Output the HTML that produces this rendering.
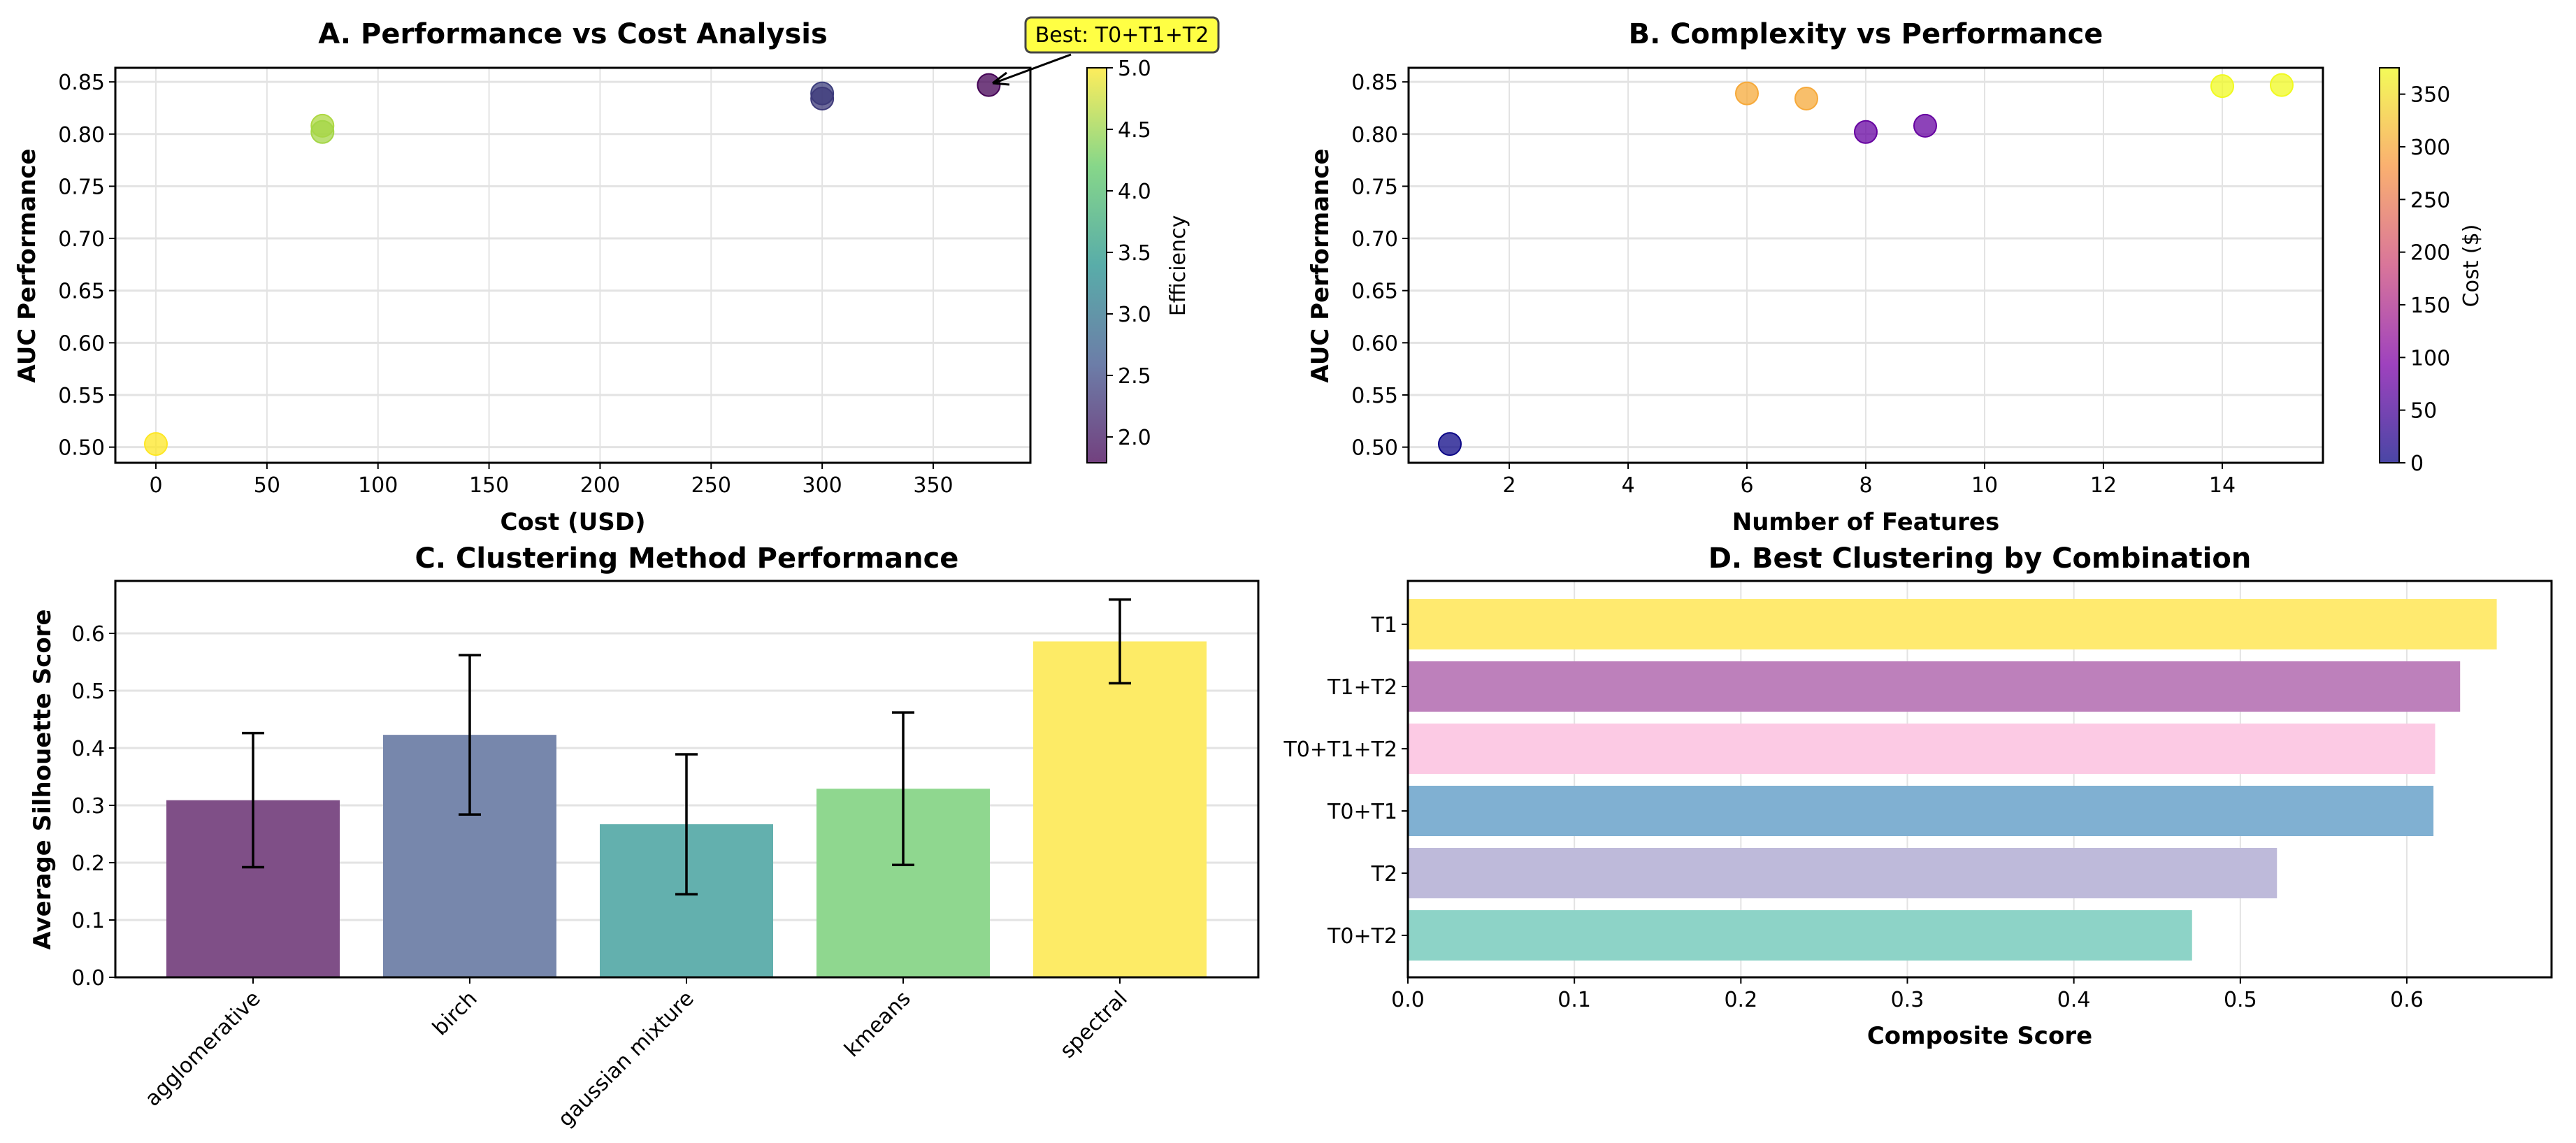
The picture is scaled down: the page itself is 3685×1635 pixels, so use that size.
<!DOCTYPE html>
<html><head><meta charset="utf-8"><style>
html,body{margin:0;padding:0;background:#fff}
svg{display:block;font-family:"DejaVu Sans","Liberation Sans",sans-serif}
</style></head><body>
<svg id="s" width="3685" height="1635" viewBox="0 0 3685 1635" xmlns="http://www.w3.org/2000/svg">
<defs>
<linearGradient id="viridis" x1="0" y1="1" x2="0" y2="0">
<stop offset="0" stop-color="#440154"/><stop offset="0.25" stop-color="#3b528b"/><stop offset="0.5" stop-color="#21918c"/><stop offset="0.75" stop-color="#5ec962"/><stop offset="1" stop-color="#fde725"/>
</linearGradient>
<linearGradient id="plasma" x1="0" y1="1" x2="0" y2="0">
<stop offset="0" stop-color="#0d0887"/><stop offset="0.25" stop-color="#7e03a8"/><stop offset="0.5" stop-color="#cc4778"/><stop offset="0.75" stop-color="#f89540"/><stop offset="1" stop-color="#f0f921"/>
</linearGradient>
</defs>
</svg>
<script>
// Panel A data
const aCost = [0, 75, 75, 300, 300, 375];
const aAuc = [0.503, 0.808, 0.802, 0.839, 0.834, 0.847];
const aEff = [5.0, 4.6, 4.55, 2.4, 2.35, 1.8];
const aXTicks = [0, 50, 100, 150, 200, 250, 300, 350];
const aucTicks = [0.50, 0.55, 0.60, 0.65, 0.70, 0.75, 0.80, 0.85];
const effTicks = [2.0, 2.5, 3.0, 3.5, 4.0, 4.5, 5.0];
// Panel B data
const bFeat = [1, 6, 7, 8, 9, 14, 15];
const bAuc = [0.503, 0.839, 0.834, 0.802, 0.808, 0.846, 0.847];
const bCost = [0, 300, 300, 75, 75, 375, 375];
const bXTicks = [2, 4, 6, 8, 10, 12, 14];
const costTicks = [0, 50, 100, 150, 200, 250, 300, 350];
// Panel C data
const cMethods = ["agglomerative", "birch", "gaussian mixture", "kmeans", "spectral"];
const cMeans = [0.309, 0.423, 0.267, 0.329, 0.586];
const cErr = [0.117, 0.139, 0.122, 0.133, 0.073];
const cColors = ["#7f4f87", "#7787ac", "#63b0ae", "#8fd78f", "#fdeb66"];
const cYTicks = [0.0, 0.1, 0.2, 0.3, 0.4, 0.5, 0.6];
// Panel D data
const dCombos = ["T1", "T1+T2", "T0+T1+T2", "T0+T1", "T2", "T0+T2"];
const dScores = [0.654, 0.632, 0.617, 0.616, 0.522, 0.471];
const dColors = ["#ffea6f", "#bd80bb", "#fccae4", "#80b0d2", "#bebada", "#8dd3c7"];
const dXTicks = [0.0, 0.1, 0.2, 0.3, 0.4, 0.5, 0.6];

const S = document.getElementById('s');
const NS = 'http://www.w3.org/2000/svg';
function mk(tag, at, txt){const e=document.createElementNS(NS,tag);for(const k in at)e.setAttribute(k,at[k]);if(txt!==undefined)e.textContent=txt;S.appendChild(e);return e;}
function lin(d0,d1,r0,r1){return v=>r0+(v-d0)*(r1-r0)/(d1-d0);}
function lerpC(stops,t){t=Math.max(0,Math.min(1,t));const n=stops.length-1;const i=Math.min(n-1,Math.floor(t*n));const f=t*n-i;const a=stops[i],b=stops[i+1];const h=x=>parseInt(x,16);
const c=[1,3,5].map(k=>Math.round(h(a.substr(k,2))*(1-f)+h(b.substr(k,2))*f));return 'rgb('+c.join(',')+')';}
const VIR=["#440154","#3b528b","#21918c","#5ec962","#fde725"];
const PLA=["#0d0887","#7e03a8","#cc4778","#f89540","#f0f921"];
const fmt2=v=>v.toFixed(2), fmt1=v=>v.toFixed(1);

function scatterPanel(o){
  const x=lin(o.xd[0],o.xd[1],o.L,o.R), y=lin(0.485,0.8635,o.B,o.T);
  let e;
  o.xt.forEach(t=>{e=mk('line',{x1:x(t),x2:x(t),y1:o.T,y2:o.B,stroke:'#e3e3e3','stroke-width':2});
  });
  aucTicks.forEach(t=>{e=mk('line',{x1:o.L,x2:o.R,y1:y(t),y2:y(t),stroke:'#e3e3e3','stroke-width':3});
  });
  o.xs.forEach((v,i)=>{e=mk('circle',{cx:x(v),cy:y(o.ys[i]),r:16,fill:o.col(i),'fill-opacity':0.75,stroke:o.col(i),'stroke-width':2});
  });
  e=mk('rect',{x:o.L,y:o.T,width:o.R-o.L,height:o.B-o.T,fill:'none',stroke:'#000','stroke-width':3});
  
  o.xt.forEach(t=>{mk('line',{x1:x(t),x2:x(t),y1:o.B,y2:o.B+9,stroke:'#000','stroke-width':2});
    e=mk('text',{x:x(t),y:o.B+42,'font-size':30,'text-anchor':'middle'},String(t));
    });
  aucTicks.forEach(t=>{mk('line',{x1:o.L-9,x2:o.L,y1:y(t),y2:y(t),stroke:'#000','stroke-width':2});
    e=mk('text',{x:o.L-15,y:y(t)+11,'font-size':30,'text-anchor':'end'},fmt2(t));
    });
  e=mk('text',{x:(o.L+o.R)/2,y:62,'font-size':40,'font-weight':'bold','text-anchor':'middle'},o.title);
  
  e=mk('text',{x:(o.L+o.R)/2,y:758,'font-size':34,'font-weight':'bold','text-anchor':'middle'},o.xlabel);
  
  e=mk('text',{x:0,y:0,'font-size':34,'font-weight':'bold','text-anchor':'middle',transform:`translate(${o.ylx},380) rotate(-90)`},'AUC Performance');
  
  // colorbar
  e=mk('rect',{x:o.cbx,y:o.T,width:28,height:o.B-o.T,fill:o.grad,'fill-opacity':0.75,stroke:'#000','stroke-width':2});
  
  const cy=lin(o.cd[0],o.cd[1],o.B,o.T);
  o.ct.forEach(t=>{mk('line',{x1:o.cbx+28,x2:o.cbx+37,y1:cy(t),y2:cy(t),stroke:'#000','stroke-width':2});
    e=mk('text',{x:o.cbx+44,y:cy(t)+11,'font-size':30},o.cfmt(t));
    });
  e=mk('text',{x:0,y:0,'font-size':30,'text-anchor':'middle',transform:`translate(${o.clx},380) rotate(-90)`},o.clabel);
  
  return {x,y};
}
const A=scatterPanel({L:165,R:1474,T:97,B:662,xd:[0,350],rxd:null,xs:aCost,ys:aAuc,xt:aXTicks,
  col:i=>lerpC(VIR,(aEff[i]-1.79)/(5.0-1.79)),title:'A. Performance vs Cost Analysis',xlabel:'Cost (USD)',ylx:50,
  cbx:1555,grad:'url(#viridis)',cd:[1.79,5.0],ct:effTicks,cfmt:fmt1,clx:1695,clabel:'Efficiency'});
// fix x domain mapping: 0 at 223, 350 at 1335
(function(){})();
</script>
<script>
// Panel A was drawn with linear mapping 0->L; redraw correct mapping is handled here by clearing and redrawing
while(S.lastChild && S.lastChild.tagName!=='defs') S.removeChild(S.lastChild);
const xA=lin(0,350,223,1335), xB=lin(2,14,2159,3179);
scatterPanel({L:165,R:1474,T:97,B:662,xd:[(165-223)/(1112/350),(1474-223)/(1112/350)],xs:aCost,ys:aAuc,xt:aXTicks,
  col:i=>lerpC(VIR,(aEff[i]-1.79)/(5.0-1.79)),title:'A. Performance vs Cost Analysis',xlabel:'Cost (USD)',ylx:50,
  cbx:1555,grad:'url(#viridis)',cd:[1.79,5.0],ct:effTicks,cfmt:fmt1,clx:1695,clabel:'Efficiency'});
scatterPanel({L:2015,R:3323,T:97,B:662,xd:[2+(2015-2159)/85,2+(3323-2159)/85],xs:bFeat,ys:bAuc,xt:bXTicks,
  col:i=>lerpC(PLA,bCost[i]/375),title:'B. Complexity vs Performance',xlabel:'Number of Features',ylx:1900,
  cbx:3404,grad:'url(#plasma)',cd:[0,375],ct:costTicks,cfmt:String,clx:3545,clabel:'Cost ($)'});
// annotation
let e;
e=mk('line',{x1:1532,y1:78,x2:1424,y2:118,stroke:'#000','stroke-width':3});

mk('path',{d:'M1420,119 L1440,104 M1420,119 L1444,121',stroke:'#000','stroke-width':3,fill:'none'});
e=mk('rect',{x:1467,y:25,width:276,height:50,rx:8,fill:'#ffff44',stroke:'#444','stroke-width':3});

e=mk('text',{x:1605,y:60,'font-size':30,'text-anchor':'middle'},'Best: T0+T1+T2');


// Panel C
(function(){
  const L=165,R=1800,T=831,B=1398;
  const x=lin(0,1,362,672), y=lin(0,0.6,B,906), bw=248;
  cYTicks.forEach(t=>{e=mk('line',{x1:L,x2:R,y1:y(t),y2:y(t),stroke:'#e3e3e3','stroke-width':3});
    });
  cMeans.forEach((v,i)=>{e=mk('rect',{x:x(i)-bw/2,y:y(v),width:bw,height:B-y(v),fill:cColors[i]});
    
    const hi=y(v+cErr[i]), lo=y(v-cErr[i]);
    e=mk('path',{d:`M${x(i)},${hi}V${lo}M${x(i)-16},${hi}H${x(i)+16}M${x(i)-16},${lo}H${x(i)+16}`,stroke:'#000','stroke-width':3.5,fill:'none'});
    
    mk('line',{x1:x(i),x2:x(i),y1:B,y2:B+9,stroke:'#000','stroke-width':2});
    e=mk('text',{x:0,y:0,'font-size':30,'text-anchor':'end',transform:`translate(${x(i)+12},${B+32}) rotate(-45)`},cMethods[i]);
    
  });
  e=mk('rect',{x:L,y:T,width:R-L,height:B-T,fill:'none',stroke:'#000','stroke-width':3});
  
  cYTicks.forEach(t=>{mk('line',{x1:L-9,x2:L,y1:y(t),y2:y(t),stroke:'#000','stroke-width':2});
    e=mk('text',{x:L-15,y:y(t)+11,'font-size':30,'text-anchor':'end'},fmt1(t));
    });
  e=mk('text',{x:(L+R)/2,y:812,'font-size':40,'font-weight':'bold','text-anchor':'middle'},'C. Clustering Method Performance');
  
  e=mk('text',{x:0,y:0,'font-size':34,'font-weight':'bold','text-anchor':'middle',transform:`translate(72,1115) rotate(-90)`},'Average Silhouette Score');
  
})();

// Panel D
(function(){
  const L=2014,R=3650,T=831,B=1398;
  const x=lin(0,0.6,L,3443), y=lin(0,1,893,982), bh=72;
  dXTicks.forEach(t=>{e=mk('line',{x1:x(t),x2:x(t),y1:T,y2:B,stroke:'#e3e3e3','stroke-width':2});
    });
  dScores.forEach((v,i)=>{e=mk('rect',{x:L,y:y(i)-bh/2,width:x(v)-L,height:bh,fill:dColors[i]});
    
    mk('line',{x1:L-9,x2:L,y1:y(i),y2:y(i),stroke:'#000','stroke-width':2});
    e=mk('text',{x:L-15,y:y(i)+11,'font-size':30,'text-anchor':'end'},dCombos[i]);
    });
  e=mk('rect',{x:L,y:T,width:R-L,height:B-T,fill:'none',stroke:'#000','stroke-width':3});
  
  dXTicks.forEach(t=>{mk('line',{x1:x(t),x2:x(t),y1:B,y2:B+9,stroke:'#000','stroke-width':2});
    e=mk('text',{x:x(t),y:B+42,'font-size':30,'text-anchor':'middle'},fmt1(t));
    });
  e=mk('text',{x:2832,y:812,'font-size':40,'font-weight':'bold','text-anchor':'middle'},'D. Best Clustering by Combination');
  
  e=mk('text',{x:2832,y:1493,'font-size':34,'font-weight':'bold','text-anchor':'middle'},'Composite Score');
  
})();
</script>
</body></html>
